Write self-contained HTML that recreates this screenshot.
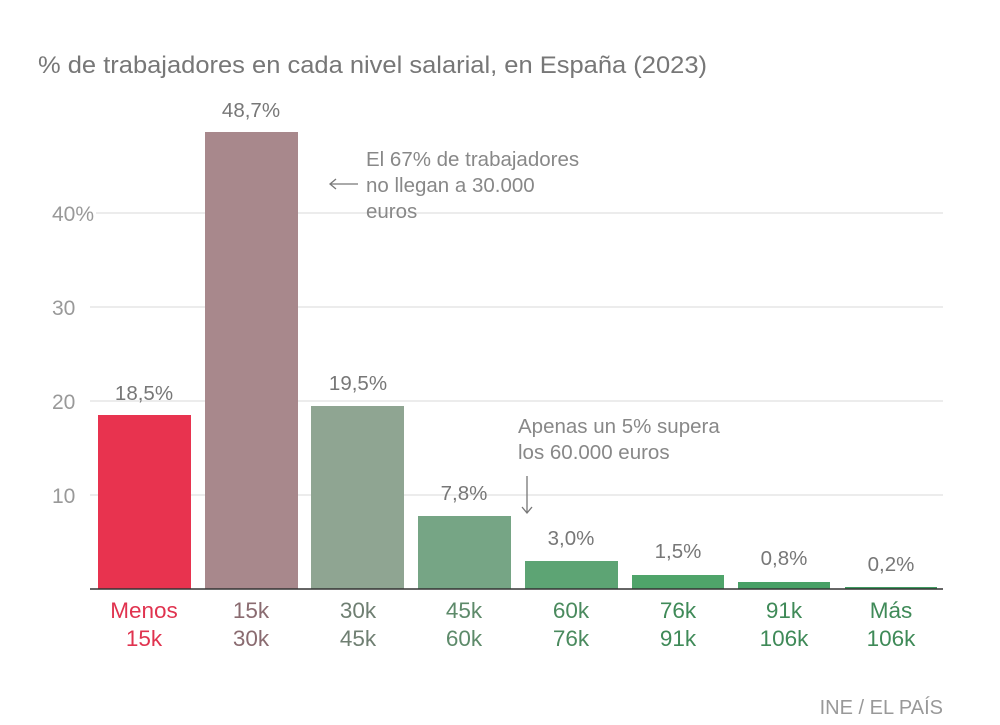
<!DOCTYPE html>
<html><head><meta charset="utf-8"><style>
body{margin:0;background:#fff;}
svg text{font-family:"Liberation Sans",sans-serif;}
</style></head><body>
<svg width="1000" height="720" viewBox="0 0 1000 720" xmlns="http://www.w3.org/2000/svg">
<rect width="1000" height="720" fill="#fff"/>
<text x="38" y="73" font-size="24.5" fill="#777" textLength="669" lengthAdjust="spacingAndGlyphs">% de trabajadores en cada nivel salarial, en España (2023)</text>
<g stroke="#e6e6e6" stroke-width="1.5">
<line x1="96" x2="943" y1="213" y2="213"/>
<line x1="90" x2="943" y1="307" y2="307"/>
<line x1="90" x2="943" y1="401" y2="401"/>
<line x1="90" x2="943" y1="495" y2="495"/>
</g>
<g font-size="21" fill="#999">
<text x="52" y="221">40%</text>
<text x="52" y="315">30</text>
<text x="52" y="409">20</text>
<text x="52" y="503">10</text>
</g>
<rect x="98" y="415" width="93" height="174" fill="#e8334f"/>
<rect x="205" y="132" width="93" height="457" fill="#a8888c"/>
<rect x="311" y="406" width="93" height="183" fill="#8fa592"/>
<rect x="418" y="516" width="93" height="73" fill="#76a585"/>
<rect x="525" y="561" width="93" height="28" fill="#5da474"/>
<rect x="632" y="575" width="92" height="14" fill="#4fa46a"/>
<rect x="738" y="582" width="92" height="7" fill="#48a066"/>
<rect x="845" y="587" width="92" height="2" fill="#3f9a60"/>
<line x1="90" x2="943" y1="589" y2="589" stroke="#333" stroke-width="1.5"/>
<g font-size="20.5" fill="#777" text-anchor="middle">
<text x="144" y="400">18,5%</text>
<text x="251" y="117">48,7%</text>
<text x="358" y="390">19,5%</text>
<text x="464" y="500">7,8%</text>
<text x="571" y="545">3,0%</text>
<text x="678" y="558">1,5%</text>
<text x="784" y="565">0,8%</text>
<text x="891" y="571">0,2%</text>
</g>
<g font-size="22.5" text-anchor="middle">
<text x="144" y="618" fill="#e0334f">Menos</text><text x="144" y="646" fill="#e0334f">15k</text>
<text x="251" y="618" fill="#8a6b70">15k</text><text x="251" y="646" fill="#8a6b70">30k</text>
<text x="358" y="618" fill="#6f7f72">30k</text><text x="358" y="646" fill="#6f7f72">45k</text>
<text x="464" y="618" fill="#5d8a6a">45k</text><text x="464" y="646" fill="#5d8a6a">60k</text>
<text x="571" y="618" fill="#4a8a5e">60k</text><text x="571" y="646" fill="#4a8a5e">76k</text>
<text x="678" y="618" fill="#3f8a58">76k</text><text x="678" y="646" fill="#3f8a58">91k</text>
<text x="784" y="618" fill="#3f8a58">91k</text><text x="784" y="646" fill="#3f8a58">106k</text>
<text x="891" y="618" fill="#3f8a58">Más</text><text x="891" y="646" fill="#3f8a58">106k</text>
</g>
<g font-size="20.5" fill="#888">
<text x="366" y="166">El 67% de trabajadores</text>
<text x="366" y="192">no llegan a 30.000</text>
<text x="366" y="218">euros</text>
<text x="518" y="433">Apenas un 5% supera</text>
<text x="518" y="459">los 60.000 euros</text>
</g>
<g stroke="#777" stroke-width="1.3" fill="none">
<line x1="330" y1="184" x2="358" y2="184"/><polyline points="336,179 330,184 336,189"/>
<line x1="527" y1="476" x2="527" y2="513"/><polyline points="522,507 527,513 532,507"/>
</g>
<text x="943" y="714" font-size="20" fill="#999" text-anchor="end">INE / EL PAÍS</text>
</svg>
</body></html>
